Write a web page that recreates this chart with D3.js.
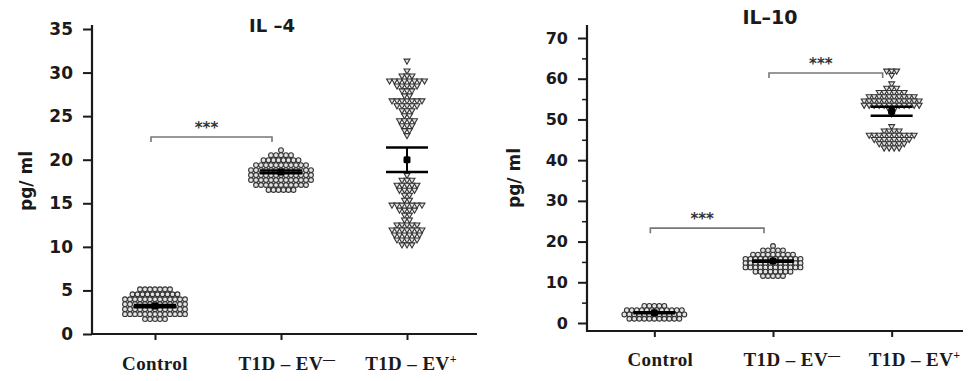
<!DOCTYPE html>
<html>
<head>
<meta charset="utf-8">
<script src="https://cdn.jsdelivr.net/npm/d3@7"></script>
<style>
  body { margin: 0; background: #fff; }
  svg { display: block; }
</style>
</head>
<body>
<svg id="chart" width="970" height="381"></svg>
<script>
// categories and their axis labels (base text + superscript)
const categories = ["Control", "T1D-EV-", "T1D-EV+"];
const categoryBase = ["Control", "T1D – EV", "T1D – EV"];
const categorySup = ["", "—", "+"];

// IL-4, pg/ml
const il4Control = [
  5.0, 5.1, 5.1, 5.2, 5.0, 5.1, 5.2,
  4.4, 4.5, 4.6, 4.7, 4.5, 4.6, 4.4, 4.7, 4.5, 4.6,
  3.8, 3.9, 4.0, 4.1, 4.2, 3.9, 4.0, 4.1, 3.8, 4.0, 4.1, 3.9, 4.0,
  3.2, 3.3, 3.4, 3.5, 3.6, 3.3, 3.4, 3.5, 3.2, 3.4, 3.6, 3.3, 3.5,
  2.6, 2.7, 2.8, 2.9, 3.0, 3.1, 2.7, 2.8, 2.9, 3.0, 2.8, 2.9, 2.7,
  2.0, 2.1, 2.2, 2.3, 2.4, 2.5, 2.1, 2.2, 2.3, 2.4, 2.2, 2.3, 2.1,
  1.6, 1.7, 1.8, 1.9, 1.7
];
const il4EvNeg = [
  21.1,
  20.3, 20.5, 20.6, 20.4, 20.7,
  19.7, 19.8, 19.9, 20.0, 20.1, 19.9, 20.0, 19.8,
  19.2, 19.3, 19.4, 19.5, 19.6, 19.3, 19.4, 19.5, 19.2, 19.4, 19.6,
  18.6, 18.7, 18.8, 18.9, 19.0, 18.7, 18.8, 18.9, 18.6, 18.8, 19.0, 18.7, 18.9,
  18.0, 18.1, 18.2, 18.3, 18.4, 18.1, 18.2, 18.3, 18.0, 18.2, 18.4, 18.1, 18.3,
  17.4, 17.5, 17.6, 17.7, 17.8, 17.9, 17.5, 17.6, 17.7, 17.8, 17.6, 17.7, 17.5,
  16.9, 17.0, 17.1, 17.2, 17.3, 17.0, 17.1, 17.2, 16.9, 17.1, 17.3,
  16.3, 16.4, 16.5, 16.6, 16.7, 16.5
];
const il4EvPos = [
  31.4, 30.2,
  29.5, 29.6, 29.8,
  28.9, 29.0, 29.1, 29.2, 29.0, 29.1, 28.9, 29.3,
  28.3, 28.4, 28.5, 28.6, 28.7,
  27.8, 27.9, 28.1,
  27.3, 27.5,
  26.6, 26.7, 26.8, 26.9, 27.0, 26.7, 26.8,
  26.0, 26.1, 26.2, 26.3, 26.4,
  25.5, 25.6, 25.8,
  24.9, 25.2,
  24.3, 24.4, 24.6, 24.7,
  23.8, 23.9, 24.1,
  23.2, 23.5,
  22.8,
  18.2,
  17.5, 17.7, 17.8,
  16.9, 17.0, 17.1, 17.2, 17.3,
  16.4, 16.5, 16.6, 16.7,
  15.9, 16.1,
  15.3, 15.5,
  14.6, 14.7, 14.8, 14.9, 15.0, 14.7, 14.9,
  14.1, 14.2, 14.3, 14.4,
  13.6, 13.8,
  13.0, 13.2,
  12.3, 12.4, 12.5, 12.6, 12.7,
  11.7, 11.8, 11.9, 12.0, 12.1, 11.9, 12.0,
  11.2, 11.3, 11.4, 11.5, 11.6, 11.4,
  10.6, 10.7, 10.8, 10.9, 11.0,
  10.1, 10.3, 10.4
];
const il4Mean = [3.2, 18.6, 20.0];
const il4Sem = [0.12, 0.15, 1.4];
const il4Ticks = [0, 5, 10, 15, 20, 25, 30, 35];

// IL-10, pg/ml
const il10Control = [
  3.8, 4.0, 4.2, 4.3, 4.5,
  2.7, 2.8, 2.9, 3.0, 3.1, 3.2, 3.3, 3.4, 3.5, 3.0, 3.2, 3.4,
  1.6, 1.7, 1.8, 1.9, 2.0, 2.1, 2.2, 2.3, 2.4, 2.5, 2.0, 2.2, 1.9,
  0.6, 0.7, 0.8, 0.9, 1.0, 1.1, 1.2, 1.3, 1.4, 1.5, 1.1
];
const il10EvNeg = [
  19.0,
  17.5, 17.7, 17.9, 18.1, 18.2,
  16.4, 16.5, 16.6, 16.7, 16.8, 16.9, 17.0, 17.1, 17.2,
  15.3, 15.4, 15.5, 15.6, 15.7, 15.8, 15.9, 16.0, 16.1, 16.2, 15.6, 15.8,
  14.2, 14.3, 14.4, 14.5, 14.6, 14.7, 14.8, 14.9, 15.0, 15.1, 14.6, 14.8,
  13.2, 13.3, 13.4, 13.5, 13.6, 13.7, 13.8, 13.9, 14.0, 14.1, 13.5, 13.7,
  12.2, 12.3, 12.5, 12.6, 12.7, 12.8, 12.9, 13.0,
  11.2, 11.4, 11.6, 11.8, 12.0
];
const il10EvPos = [
  61.6, 62.0, 62.3,
  61.0,
  58.7,
  57.4, 57.8, 58.1,
  56.3, 56.5, 56.7, 56.8, 57.0, 57.1,
  55.2, 55.3, 55.4, 55.5, 55.6, 55.7, 55.8, 55.9, 56.0, 56.1,
  54.1, 54.2, 54.3, 54.4, 54.5, 54.6, 54.7, 54.8, 54.9, 55.0, 54.5, 54.7,
  53.1, 53.2, 53.3, 53.4, 53.5, 53.6, 53.7, 53.8, 53.9, 54.0, 53.4, 53.6,
  52.3, 52.7,
  51.4,
  48.4,
  46.9, 47.1, 47.3, 47.6,
  45.7, 45.8, 45.9, 46.0, 46.1, 46.2, 46.3, 46.4, 46.5, 46.6,
  44.7, 44.8, 45.0, 45.1, 45.2, 45.3, 45.5, 45.6,
  43.7, 43.9, 44.0, 44.2, 44.4, 44.5,
  42.7, 42.9, 43.2, 43.4
];
const il10Mean = [2.5, 15.2, 52.0];
const il10Sem = [0.12, 0.15, 1.1];
const il10Ticks = [0, 10, 20, 30, 40, 50, 60, 70];
const il10MinorTicks = [5, 15, 25, 35, 45, 55, 65];

// significance brackets: between categories, at a y value
const il4Brackets = [{ from: 0, to: 1, value: 22.6, label: "***" }];
const il10Brackets = [
  { from: 0, to: 1, value: 23.3, label: "***" },
  { from: 1, to: 2, value: 61.4, label: "***" }
];

// panel layout
const panels = [
  {
    title: "IL –4", titleX: 272, titleY: 32, titleSize: 18,
    groups: [il4Control, il4EvNeg, il4EvPos], mean: il4Mean, sem: il4Sem,
    ticks: il4Ticks, minor: [], max: 35, bin: 0.57, brackets: il4Brackets,
    left: 92, right: 477, axisTop: 25, yTop: 29, yBottom: 334, axisY: 334,
    xRange: [92, 470], tickFont: 17, labelY: 370, labelShift: [0, 6, 4],
    yLabelX: 32, yLabelY: 181
  },
  {
    title: "IL–10", titleX: 770, titleY: 24, titleSize: 19,
    groups: [il10Control, il10EvNeg, il10EvPos], mean: il10Mean, sem: il10Sem,
    ticks: il10Ticks, minor: il10MinorTicks, max: 70, bin: 1.05, brackets: il10Brackets,
    left: 587, right: 963, axisTop: 25, yTop: 38, yBottom: 323, axisY: 331,
    xRange: [595, 951], tickFont: 16, labelY: 366, labelShift: [6, 19, 23],
    yLabelX: 520, yLabelY: 178
  }
];

const sans = "DejaVu Sans, Verdana, sans-serif";
const serif = "Liberation Serif, Times New Roman, serif";
const ink = "#1a1a1a";

// Prism-like dot layout: values in the same bin form a centered row
function swarm(values, bin, spacing) {
  const rows = d3.group(values, v => Math.round(v / bin));
  const out = [];
  for (const [k, vals] of rows) {
    const n = vals.length;
    vals.forEach((v, i) => out.push({ value: v, level: k * bin, offset: (i - (n - 1) / 2) * spacing }));
  }
  return out;
}

const svg = d3.select("#chart");
const triangle = d3.symbol().type(d3.symbolTriangle).size(15)();

panels.forEach(p => {
  const g = svg.append("g");
  const y = d3.scaleLinear().domain([0, p.max]).range([p.yBottom, p.yTop]);
  const x = d3.scalePoint().domain(categories).range(p.xRange).padding(0.5);

  // y axis
  const ya = g.append("g")
    .attr("transform", `translate(${p.left},0)`)
    .call(d3.axisLeft(y).tickValues(p.ticks).tickSize(9).tickPadding(10));
  ya.select(".domain").remove();
  ya.selectAll(".tick line").attr("stroke", ink).attr("stroke-width", 2);
  ya.selectAll(".tick text")
    .attr("fill", ink)
    .attr("font-family", sans)
    .attr("font-weight", "bold")
    .attr("font-size", p.tickFont);

  if (p.minor.length) {
    const ym = g.append("g")
      .attr("transform", `translate(${p.left},0)`)
      .call(d3.axisLeft(y).tickValues(p.minor).tickSize(5).tickFormat(""));
    ym.select(".domain").remove();
    ym.selectAll(".tick line").attr("stroke", ink).attr("stroke-width", 1.5);
  }

  // x axis ticks
  const xa = g.append("g")
    .attr("transform", `translate(0,${p.axisY})`)
    .call(d3.axisBottom(x).tickSize(6).tickFormat(""));
  xa.select(".domain").remove();
  xa.selectAll(".tick line").attr("stroke", ink).attr("stroke-width", 2);

  // axis lines
  g.append("line")
    .attr("x1", p.left).attr("x2", p.left)
    .attr("y1", p.axisTop).attr("y2", p.axisY + 1)
    .attr("stroke", ink).attr("stroke-width", 2.2);
  g.append("line")
    .attr("x1", p.left).attr("x2", p.right)
    .attr("y1", p.axisY).attr("y2", p.axisY)
    .attr("stroke", ink).attr("stroke-width", 2.2);

  // category labels
  categories.forEach((c, i) => {
    const t = g.append("text")
      .attr("x", x(c) + p.labelShift[i])
      .attr("y", p.labelY)
      .attr("text-anchor", "middle")
      .attr("font-family", serif)
      .attr("font-weight", "bold")
      .attr("font-size", 19)
      .attr("letter-spacing", 0.4)
      .attr("fill", ink);
    t.append("tspan").text(categoryBase[i]);
    if (categorySup[i]) {
      t.append("tspan")
        .attr("dy", -7)
        .attr("font-size", 12)
        .text(categorySup[i]);
    }
  });

  // y label
  g.append("text")
    .attr("transform", `translate(${p.yLabelX},${p.yLabelY}) rotate(-90)`)
    .attr("text-anchor", "middle")
    .attr("font-family", sans)
    .attr("font-weight", "bold")
    .attr("font-size", 17)
    .attr("fill", ink)
    .text("pg/ ml");

  // title
  g.append("text")
    .attr("x", p.titleX).attr("y", p.titleY)
    .attr("text-anchor", "middle")
    .attr("font-family", sans)
    .attr("font-weight", "bold")
    .attr("font-size", p.titleSize)
    .attr("fill", ink)
    .text(p.title);

  // dots
  p.groups.forEach((vals, i) => {
    const cx = x(categories[i]);
    const pts = swarm(vals, p.bin, 5);
    const grp = g.append("g");
    if (i < 2) {
      grp.selectAll("circle").data(pts).join("circle")
        .attr("cx", d => cx + d.offset)
        .attr("cy", d => y(d.level))
        .attr("r", 2.4)
        .attr("fill", "#e4e4e4")
        .attr("stroke", "#333")
        .attr("stroke-width", 1.1);
    } else {
      grp.selectAll("path").data(pts).join("path")
        .attr("d", triangle)
        .attr("transform", d => `translate(${cx + d.offset},${y(d.level)}) rotate(180)`)
        .attr("fill", "#e4e4e4")
        .attr("stroke", "#333")
        .attr("stroke-width", 1.1);
    }
  });

  // mean with SEM
  p.mean.forEach((m, i) => {
    const cx = x(categories[i]);
    const lo = y(m - p.sem[i]), hi = y(m + p.sem[i]);
    g.append("line")
      .attr("x1", cx).attr("x2", cx).attr("y1", lo).attr("y2", hi)
      .attr("stroke", "#000").attr("stroke-width", 2);
    [lo, hi].forEach(yy => {
      g.append("line")
        .attr("x1", cx - 21).attr("x2", cx + 21).attr("y1", yy).attr("y2", yy)
        .attr("stroke", "#000").attr("stroke-width", 2.5);
    });
    g.append("rect")
      .attr("x", cx - 3.5).attr("y", y(m) - 3.5)
      .attr("width", 7).attr("height", 7).attr("rx", 1.5)
      .attr("fill", "#000");
  });

  // significance brackets
  p.brackets.forEach(b => {
    const x1 = x(categories[b.from]) - 4;
    const x2 = x(categories[b.to]) - 9;
    const yy = y(b.value);
    g.append("path")
      .attr("d", `M${x1},${yy + 5}V${yy}H${x2}V${yy + 5}`)
      .attr("fill", "none")
      .attr("stroke", "#777")
      .attr("stroke-width", 1.6);
    g.append("text")
      .attr("x", (x1 + x2) / 2 - 5)
      .attr("y", yy - 4)
      .attr("text-anchor", "middle")
      .attr("font-family", sans)
      .attr("font-weight", "bold")
      .attr("font-size", 15)
      .attr("fill", "#333")
      .text(b.label);
  });
});
</script>
</body>
</html>
